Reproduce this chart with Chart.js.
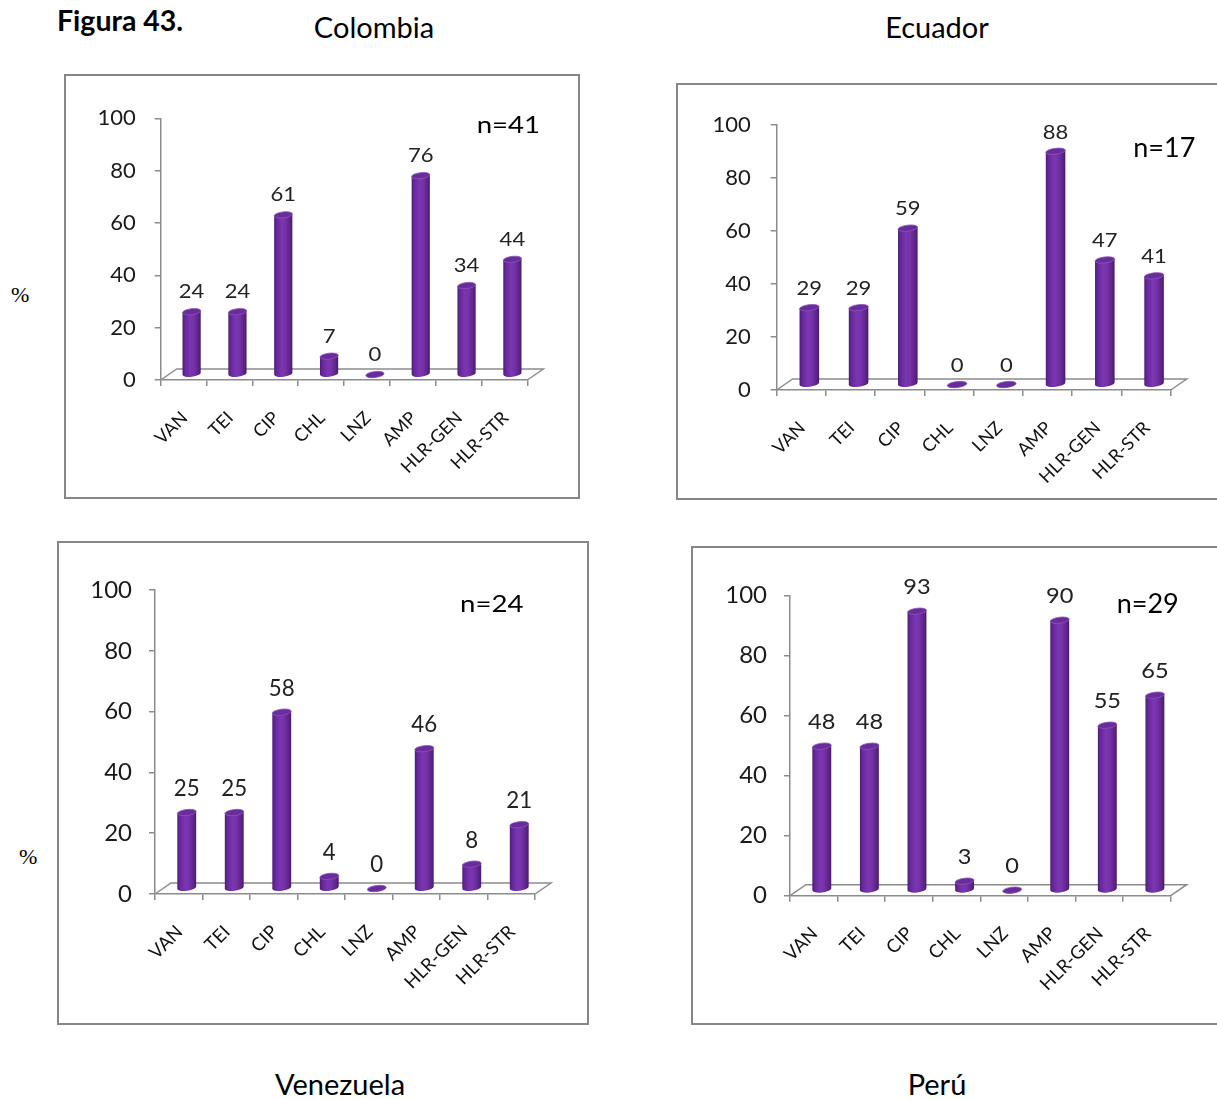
<!DOCTYPE html>
<html lang="es">
<head>
<meta charset="utf-8">
<title>Figura 43</title>
<script src="https://cdn.jsdelivr.net/npm/chart.js@4.4.1/dist/chart.umd.min.js"></script>
<style>
  html, body { margin: 0; padding: 0; background: #fff; }
  body { width: 1217px; height: 1099px; overflow: hidden; position: relative; }
  canvas { position: absolute; }
  .txt { position: absolute; white-space: nowrap; color: #000; }
  .title { font-family: Lato, "Open Sans", sans-serif; font-size: 29px; line-height: 38px; text-align: center; width: 400px; }
  .fig { font-family: Lato, sans-serif; font-weight: bold; font-size: 28.5px; line-height: 36px; }
  .pct { font-family: "Liberation Serif", serif; font-size: 22px; line-height: 30px; }
</style>
</head>
<body>
<div class="txt fig" style="left:57px; top:2px;">Figura 43.</div>
<div class="txt title" style="left:174px; top:8px;">Colombia</div>
<div class="txt title" style="left:737px; top:8px;">Ecuador</div>
<div class="txt title" style="left:140px; top:1065px;">Venezuela</div>
<div class="txt title" style="left:737px; top:1065px;">Perú</div>
<div class="txt pct" style="left:11px; top:280px;">%</div>
<div class="txt pct" style="left:19px; top:842px;">%</div>

<canvas id="cColombia"></canvas>
<canvas id="cEcuador"></canvas>
<canvas id="cVenezuela"></canvas>
<canvas id="cPeru"></canvas>

<script>
// Antibiotic categories shared by all four panels
const categories = ['VAN', 'TEI', 'CIP', 'CHL', 'LNZ', 'AMP', 'HLR-GEN', 'HLR-STR'];

// Resistance percentages per country
const colombiaValues  = [24, 24, 61, 7, 0, 76, 34, 44];
const ecuadorValues   = [29, 29, 59, 0, 0, 88, 47, 41];
const venezuelaValues = [25, 25, 58, 4, 0, 46, 8, 21];
const peruValues      = [48, 48, 93, 3, 0, 90, 55, 65];

// Y axis range and step
const yMin = 0;
const yMax = 100;
const yStep = 20;

// Sample size captions
const colombiaN  = 'n=41';
const ecuadorN   = 'n=17';
const venezuelaN = 'n=24';
const peruN      = 'n=29';

const AXIS = '#8c8c8c';
const FONT = 'Lato, "Open Sans", sans-serif';

// Panel geometry (page pixels): frame box, axis extents and text styling
const panels = [
  { id: 'cColombia', values: colombiaValues, n: colombiaN,
    L: 64, T: 74, R: 580, B: 499, frameRight: true,
    x0: 160.7, x1: 527.3, yTop: 118.3, yBase: 380,
    tickSize: 22, tickPad: 19, dataSize: 19.5, dataSx: 1.13, dataGap: 13.5,
    nSize: 23, nSx: 1.2, nX: 476.7, nY: 133.3, labSize: 18 },
  { id: 'cEcuador', values: ecuadorValues, n: ecuadorN,
    L: 676, T: 83, R: 1217, B: 500, frameRight: false,
    x0: 776.7, x1: 1170.7, yTop: 125, yBase: 390,
    tickSize: 22, tickPad: 20, dataSize: 19.5, dataSx: 1.13, dataGap: 12.7,
    nSize: 27, nSx: 1.0, nX: 1133.3, nY: 156.7, labSize: 18 },
  { id: 'cVenezuela', values: venezuelaValues, n: venezuelaN,
    L: 57, T: 541, R: 589, B: 1025, frameRight: true,
    x0: 155, x1: 535, yTop: 590, yBase: 894,
    tickSize: 24, tickPad: 17, dataSize: 23, dataSx: 0.97, dataGap: 16.5,
    nSize: 23, nSx: 1.2, nX: 460, nY: 611.7, labSize: 18.5 },
  { id: 'cPeru', values: peruValues, n: peruN,
    L: 691, T: 546, R: 1217, B: 1025, frameRight: false,
    x0: 790, x1: 1170.7, yTop: 595.7, yBase: 895.7,
    tickSize: 24, tickPad: 17, dataSize: 20.5, dataSx: 1.15, dataGap: 17.2,
    nSize: 27, nSx: 1.0, nX: 1116.7, nY: 613.3, labSize: 18.5 }
];

// depth of the 3-D floor and of the bar row on it
const FLOOR_DX = 16, FLOOR_DY = -11;
const BAR_DX = 8, BAR_DY = -5.5;
const CAP_RY = 3, TILT = -0.12;

function stretchedText(ctx, text, x, y, sx) {
  ctx.save();
  ctx.translate(x, y);
  ctx.scale(sx, 1);
  ctx.fillText(text, 0, 0);
  ctx.restore();
}

function drawCylinder(ctx, cx, topY, baseY, w) {
  const rx = w / 2, ry = CAP_RY;
  const c = Math.cos(TILT), s = Math.sin(TILT);
  const lx = -rx * c, ly = -rx * s, rxp = rx * c, ryp = rx * s;

  const g = ctx.createLinearGradient(cx - rx, 0, cx + rx, 0);
  g.addColorStop(0, '#4d1c73');
  g.addColorStop(0.14, '#65289a');
  g.addColorStop(0.42, '#7b36b2');
  g.addColorStop(0.62, '#7532a8');
  g.addColorStop(0.86, '#5e2489');
  g.addColorStop(1, '#481a6b');

  ctx.beginPath();
  ctx.moveTo(cx + lx, topY + ly);
  ctx.lineTo(cx + lx, baseY + ly);
  ctx.ellipse(cx, baseY, rx, ry, TILT, Math.PI, 0, true);
  ctx.lineTo(cx + rxp, topY + ryp);
  ctx.closePath();
  ctx.fillStyle = g;
  ctx.fill();

  ctx.beginPath();
  ctx.ellipse(cx, topY, rx, ry, TILT, 0, Math.PI * 2);
  ctx.fillStyle = '#6a2b9c';
  ctx.fill();
  ctx.lineWidth = 0.8;
  ctx.strokeStyle = '#8a58b6';
  ctx.stroke();
}

const panel3d = {
  id: 'panel3d',
  beforeDraw(chart, args, o) {
    const ctx = chart.ctx;
    ctx.save();
    ctx.strokeStyle = '#878787';
    ctx.lineWidth = 2;
    const w = o.frameRight ? chart.width - 2 : chart.width + 10;
    ctx.strokeRect(1, 1, w, chart.height - 2);
    ctx.restore();
  },
  beforeDatasetsDraw(chart) {
    const ctx = chart.ctx;
    const { left, right, bottom } = chart.chartArea;
    ctx.save();
    ctx.strokeStyle = AXIS;
    ctx.lineWidth = 1.5;
    ctx.beginPath();
    ctx.moveTo(left, bottom);
    ctx.lineTo(left + FLOOR_DX, bottom + FLOOR_DY);
    ctx.lineTo(right + FLOOR_DX, bottom + FLOOR_DY);
    ctx.lineTo(right, bottom);
    ctx.stroke();
    ctx.restore();
  },
  afterDatasetsDraw(chart, args, o) {
    const ctx = chart.ctx;
    const meta = chart.getDatasetMeta(0);
    const values = chart.data.datasets[0].data;
    const xScale = chart.scales.x;
    const bottom = chart.chartArea.bottom;
    ctx.save();
    meta.data.forEach((el, i) => {
      const cx = el.x + BAR_DX;
      const topY = el.y + BAR_DY;
      const baseY = el.base + BAR_DY;
      drawCylinder(ctx, cx, topY, baseY, el.width);
      // value label above the bar
      ctx.fillStyle = '#222';
      ctx.font = o.dataSize + 'px ' + FONT;
      ctx.textAlign = 'center';
      ctx.textBaseline = 'alphabetic';
      stretchedText(ctx, String(values[i]), cx, topY - o.dataGap, o.dataSx);
    });
    // slanted category labels
    ctx.fillStyle = '#111';
    ctx.font = o.labSize + 'px ' + FONT;
    ctx.textAlign = 'right';
    ctx.textBaseline = 'alphabetic';
    chart.data.labels.forEach((lab, i) => {
      const x = xScale.getPixelForValue(i);
      ctx.save();
      ctx.translate(x + 5, bottom + 39);
      ctx.rotate(-Math.PI / 4);
      ctx.fillText(lab, 0, 0);
      ctx.restore();
    });
    // sample size
    ctx.fillStyle = '#000';
    ctx.font = o.nSize + 'px ' + FONT;
    ctx.textAlign = 'left';
    stretchedText(ctx, o.nText, o.nX, o.nY, o.nSx);
    ctx.restore();
  }
};

panels.forEach(p => {
  const cv = document.getElementById(p.id);
  const W = p.R - p.L, H = p.B - p.T;
  cv.width = W; cv.height = H;
  cv.style.left = p.L + 'px';
  cv.style.top = p.T + 'px';
  cv.style.width = W + 'px';
  cv.style.height = H + 'px';

  new Chart(cv, {
    type: 'bar',
    data: {
      labels: categories,
      datasets: [{
        data: p.values,
        backgroundColor: 'rgba(0,0,0,0)',
        borderWidth: 0,
        barPercentage: 0.4,
        categoryPercentage: 1
      }]
    },
    options: {
      responsive: false,
      animation: false,
      events: [],
      layout: { padding: { left: 0, top: p.yTop - p.T, right: W - (p.x1 - p.L), bottom: 0 } },
      plugins: {
        legend: { display: false },
        tooltip: { enabled: false },
        panel3d: {
          frameRight: p.frameRight,
          dataSize: p.dataSize, dataSx: p.dataSx, dataGap: p.dataGap,
          labSize: p.labSize,
          nText: p.n, nSize: p.nSize, nSx: p.nSx,
          nX: p.nX - p.L, nY: p.nY - p.T
        }
      },
      scales: {
        x: {
          type: 'category',
          offset: true,
          grid: { offset: true, drawOnChartArea: false, drawTicks: true, tickLength: 6, color: AXIS, lineWidth: 1.5 },
          border: { color: AXIS, width: 1.5 },
          ticks: { display: false },
          afterFit(s) { s.height = p.B - p.yBase; }
        },
        y: {
          min: yMin, max: yMax,
          ticks: { stepSize: yStep, color: '#1a1a1a', padding: p.tickPad, font: { family: FONT, size: p.tickSize } },
          grid: { drawOnChartArea: false, drawTicks: true, tickLength: 6, color: AXIS, lineWidth: 1.5 },
          border: { color: AXIS, width: 1.5 },
          afterFit(s) { s.width = p.x0 - p.L; }
        }
      }
    },
    plugins: [panel3d]
  });
});
</script>
</body>
</html>
